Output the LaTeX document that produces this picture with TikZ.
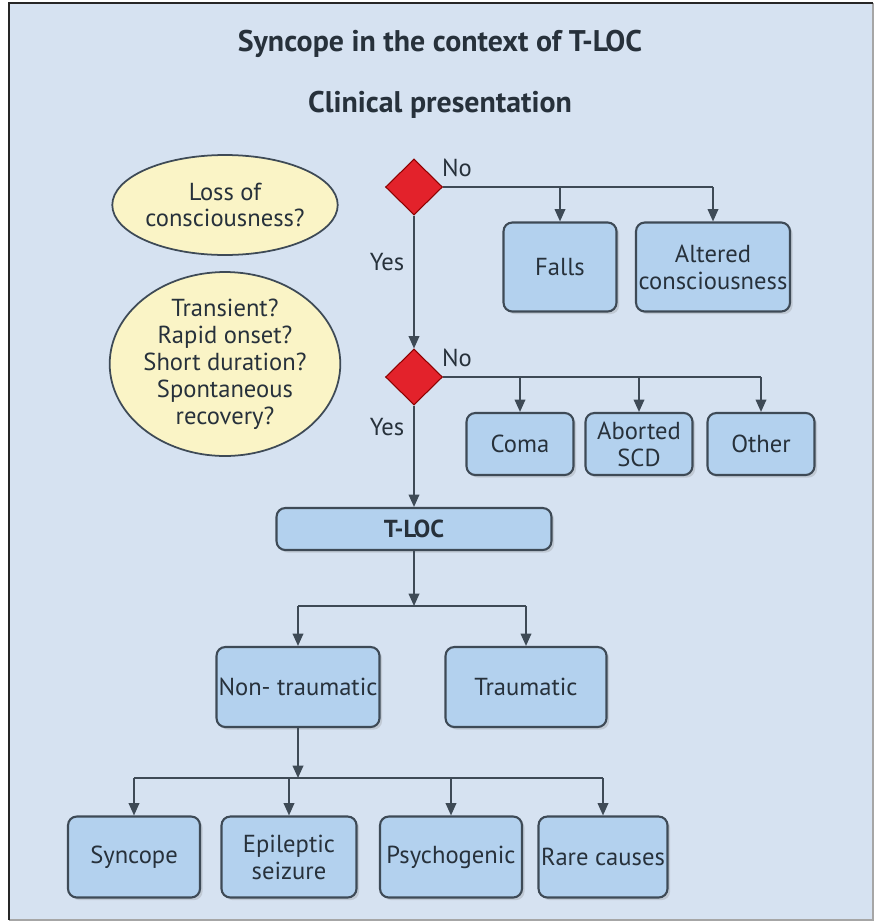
\documentclass[tikz,border=0pt]{standalone}
\usepackage{fontspec}
\setmainfont{PT Sans}
\usetikzlibrary{positioning,shapes.geometric,arrows.meta,shadows}
\definecolor{bgblue}{HTML}{D6E2F1}
\definecolor{boxblue}{HTML}{B3D1EE}
\definecolor{boxline}{HTML}{3E4A56}
\definecolor{qyellow}{HTML}{FAF4C6}
\definecolor{dred}{HTML}{E3222B}
\definecolor{inkgray}{HTML}{27313B}
\tikzset{
  outcome/.style={draw=boxline, line width=1.2pt, fill=boxblue, rounded corners=5pt,
    align=center, text=inkgray, inner sep=1pt, font=\fontsize{14}{15.3}\selectfont,
    drop shadow={opacity=0.25, shadow xshift=1.5pt, shadow yshift=-1.5pt}},
  question/.style={ellipse, draw=boxline, line width=1pt, fill=qyellow, align=center,
    text=inkgray, inner sep=0pt, font=\fontsize{14}{15.3}\selectfont},
  decision/.style={diamond, draw=red!55!black, line width=0.6pt, fill=dred,
    minimum width=1.14cm, minimum height=1.12cm, inner sep=0pt},
  lbl/.style={text=inkgray, font=\fontsize{14}{15.3}\selectfont},
  heading/.style={text=inkgray, font=\fontsize{17}{20}\selectfont\bfseries},
  flow/.style={draw=boxline, line width=1pt, -{Triangle[length=7pt,width=6pt]}},
  branch/.style={draw=boxline, line width=1pt}
}
\begin{document}
\begin{tikzpicture}[x=0.02cm, y=-0.02cm]
\useasboundingbox (0,0) rectangle (875,923);
% frame
\fill[bgblue] (9,3) rectangle (873,920);
\draw[black!35, line width=0.8pt] (873,3) -- (873,920) -- (9,920);
\draw[black!85, line width=1.6pt] (9,920) -- (9,3) -- (873,3);

% titles
\node[heading] (title) at (440,44) {Syncope in the context of T-LOC};
\node[heading] (subtitle) at (440,105) {Clinical presentation};

% questions
\node[question, minimum width=4.2cm, minimum height=2cm] (loss) at (225,205) {Loss of\\consciousness?};
\node[question, minimum width=4.2cm, minimum height=3.64cm] (trans) at (225,364) {Transient?\\Rapid onset?\\Short duration?\\Spontaneous\\recovery?};

% decisions
\node[decision] (d1) at (414,187) {};
\node[decision] (d2) at (414,377) {};

% outcomes
\node[outcome, minimum width=2.26cm, minimum height=1.78cm] (falls) at (560,267) {Falls};
\node[outcome, minimum width=3.08cm, minimum height=1.78cm] (alt) at (713,267) {Altered\\consciousness};
\node[outcome, minimum width=2.14cm, minimum height=1.24cm] (coma) at (520,444) {Coma};
\node[outcome, minimum width=2.14cm, minimum height=1.24cm] (scd) at (639,444) {Aborted\\SCD};
\node[outcome, minimum width=2.14cm, minimum height=1.24cm] (other) at (761,444) {Other};
\node[outcome, minimum width=5.5cm, minimum height=0.84cm, font=\fontsize{14}{15.3}\selectfont\bfseries] (tloc) at (414,529) {T-LOC};
\node[outcome, minimum width=3.26cm, minimum height=1.6cm] (nontr) at (298,687) {Non- traumatic};
\node[outcome, minimum width=3.22cm, minimum height=1.6cm] (traum) at (526,687) {Traumatic};
\node[outcome, minimum width=2.64cm, minimum height=1.62cm] (sync) at (134,857) {Syncope};
\node[outcome, minimum width=2.7cm, minimum height=1.62cm] (epi) at (289,857) {Epileptic\\seizure};
\node[outcome, minimum width=2.84cm, minimum height=1.62cm] (psych) at (451,857) {Psychogenic};
\node[outcome, minimum width=2.58cm, minimum height=1.62cm] (rare) at (603,857) {Rare causes};

% labels
\node[lbl] (no1) at (457,168) {No};
\node[lbl] (no2) at (457,358) {No};
\node[lbl] (yes1) at (387,262) {Yes};
\node[lbl] (yes2) at (387,427) {Yes};

% connectors
\draw[branch] (d1.east) -- (d1.east -| alt.north);
\draw[flow] (d1.east -| falls.north) -- (falls.north);
\draw[flow] (d1.east -| alt.north) -- (alt.north);
\draw[flow] (d1.south) -- (d2.north);
\draw[branch] (d2.east) -- (d2.east -| other.north);
\draw[flow] (d2.east -| coma.north) -- (coma.north);
\draw[flow] (d2.east -| scd.north) -- (scd.north);
\draw[flow] (d2.east -| other.north) -- (other.north);
\draw[flow] (d2.south) -- (tloc.north);
\coordinate (tj) at (414,606);
\draw[flow] (tloc.south) -- (tj);
\draw[branch] (tj -| nontr.north) -- (tj -| traum.north);
\draw[flow] (tj -| nontr.north) -- (nontr.north);
\draw[flow] (tj -| traum.north) -- (traum.north);
\coordinate (nj) at (298,778);
\draw[flow] (nontr.south) -- (nj);
\draw[branch] (nj -| sync.north) -- (nj -| rare.north);
\draw[flow] (nj -| sync.north) -- (sync.north);
\draw[flow] (nj -| epi.north) -- (epi.north);
\draw[flow] (nj -| psych.north) -- (psych.north);
\draw[flow] (nj -| rare.north) -- (rare.north);
\end{tikzpicture}
\end{document}
